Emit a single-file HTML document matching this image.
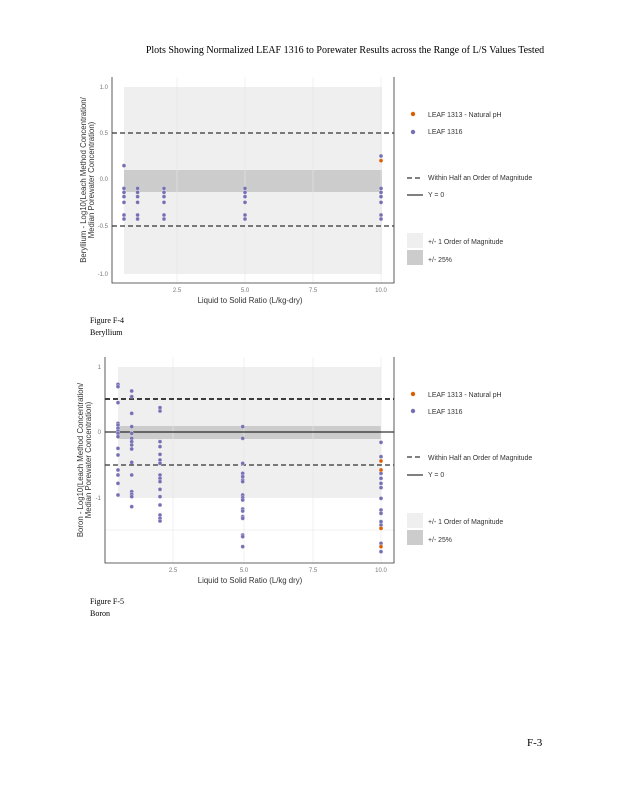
<!DOCTYPE html>
<html><head><meta charset="utf-8"><style>
html,body{margin:0;padding:0;background:#fff;}
svg{display:block;font-family:"Liberation Sans",sans-serif;}
.s{font-family:"Liberation Serif",serif;}
</style></head><body>
<svg id="s" width="618" height="800" viewBox="0 0 618 800" xmlns="http://www.w3.org/2000/svg">
<text class="s" x="345" y="53" font-size="10" text-anchor="middle" fill="#000">Plots Showing Normalized LEAF 1316 to Porewater Results across the Range of L/S Values Tested</text>

<g id="p1">
<rect x="124" y="87" width="258" height="187" fill="#efefef"/>
<rect x="124" y="170" width="258" height="22" fill="#cccccc"/>
<g stroke="#e6e6e6" stroke-width="0.6">
<line x1="177" y1="77" x2="177" y2="283"/><line x1="245" y1="77" x2="245" y2="283"/><line x1="313" y1="77" x2="313" y2="283"/><line x1="381" y1="77" x2="381" y2="283"/>
</g>
<line x1="112" y1="133" x2="394" y2="133" stroke="#000" stroke-width="1" stroke-dasharray="5,3"/>
<line x1="112" y1="226" x2="394" y2="226" stroke="#000" stroke-width="1" stroke-dasharray="5,3"/>
<polyline points="112,77 112,283 394,283 394,77" fill="none" stroke="#333" stroke-width="0.8"/>
<g font-size="6" fill="#777" text-anchor="end">
<text x="108" y="89">1.0</text><text x="108" y="135">0.5</text><text x="108" y="181">0.0</text><text x="108" y="228">-0.5</text><text x="108" y="276">-1.0</text>
</g>
<g font-size="6" fill="#777" text-anchor="middle">
<text x="177" y="292">2.5</text><text x="245" y="292">5.0</text><text x="313" y="292">7.5</text><text x="381" y="292">10.0</text>
</g>
<text x="250" y="303" font-size="7.8" fill="#333" text-anchor="middle">Liquid to Solid Ratio (L/kg-dry)</text>
<text transform="translate(86,180) rotate(-90)" font-size="7.8" fill="#333" text-anchor="middle">Beryllium - Log10(Leach Method Concentration/</text>
<text transform="translate(94,180) rotate(-90)" font-size="7.8" fill="#333" text-anchor="middle">Median Porewater Concentration)</text>
<g id="pts1"></g>
</g>

<g font-size="6.9" fill="#333">
<circle cx="413" cy="114" r="2.2" fill="#d95f02"/><text x="428" y="117">LEAF 1313 - Natural pH</text>
<circle cx="413" cy="132" r="2.2" fill="#7570b3"/><text x="428" y="134">LEAF 1316</text>
<line x1="407" y1="178" x2="423" y2="178" stroke="#000" stroke-dasharray="5,3"/><text x="428" y="180">Within Half an Order of Magnitude</text>
<line x1="407" y1="195" x2="423" y2="195" stroke="#000"/><text x="428" y="197">Y = 0</text>
<rect x="407" y="233" width="16" height="15" fill="#efefef"/><text x="428" y="244">+/- 1 Order of Magnitude</text>
<rect x="407" y="250" width="16" height="15" fill="#cccccc"/><text x="428" y="262">+/- 25%</text>
</g>
<text class="s" x="90" y="323" font-size="8" fill="#000">Figure F-4</text>
<text class="s" x="90" y="335" font-size="8" fill="#000">Beryllium</text>

<g>
<rect x="118" y="367" width="263" height="131" fill="#efefef"/>
<rect x="118" y="426" width="263" height="13" fill="#cccccc"/>
<g stroke="#e6e6e6" stroke-width="0.6">
<line x1="173" y1="357" x2="173" y2="563"/><line x1="244" y1="357" x2="244" y2="563"/><line x1="313" y1="357" x2="313" y2="563"/><line x1="381" y1="357" x2="381" y2="563"/>
<line x1="105" y1="530" x2="394" y2="530"/>
</g>
<line x1="105" y1="399" x2="394" y2="399" stroke="#000" stroke-width="1.5" stroke-dasharray="5,3"/>
<line x1="105" y1="465" x2="394" y2="465" stroke="#000" stroke-width="1" stroke-dasharray="5,3"/>
<line x1="105" y1="432" x2="394" y2="432" stroke="#000" stroke-width="1"/>
<polyline points="105,357 105,563 394,563 394,357" fill="none" stroke="#333" stroke-width="0.8"/>
<g font-size="6" fill="#777" text-anchor="end">
<text x="101" y="369">1</text><text x="101" y="434">0</text><text x="101" y="500">-1</text>
</g>
<g font-size="6" fill="#777" text-anchor="middle">
<text x="173" y="572">2.5</text><text x="244" y="572">5.0</text><text x="313" y="572">7.5</text><text x="381" y="572">10.0</text>
</g>
<text x="250" y="583" font-size="7.8" fill="#333" text-anchor="middle">Liquid to Solid Ratio (L/kg dry)</text>
<text transform="translate(83,460) rotate(-90)" font-size="7.8" fill="#333" text-anchor="middle">Boron - Log10(Leach Method Concentration/</text>
<text transform="translate(91,460) rotate(-90)" font-size="7.8" fill="#333" text-anchor="middle">Median Porewater Concentration)</text>
<g id="pts2"></g>
</g>

<g font-size="6.9" fill="#333">
<circle cx="413" cy="394" r="2.2" fill="#d95f02"/><text x="428" y="397">LEAF 1313 - Natural pH</text>
<circle cx="413" cy="411" r="2.2" fill="#7570b3"/><text x="428" y="414">LEAF 1316</text>
<line x1="407" y1="457" x2="423" y2="457" stroke="#000" stroke-dasharray="5,3"/><text x="428" y="460">Within Half an Order of Magnitude</text>
<line x1="407" y1="475" x2="423" y2="475" stroke="#000"/><text x="428" y="477">Y = 0</text>
<rect x="407" y="513" width="16" height="15" fill="#efefef"/><text x="428" y="524">+/- 1 Order of Magnitude</text>
<rect x="407" y="530" width="16" height="15" fill="#cccccc"/><text x="428" y="542">+/- 25%</text>
</g>
<text class="s" x="90" y="604" font-size="8" fill="#000">Figure F-5</text>
<text class="s" x="90" y="616" font-size="8" fill="#000">Boron</text>

<text class="s" x="527" y="746" font-size="11" fill="#000">F-3</text>
</svg>
<script>
var NS="http://www.w3.org/2000/svg";
function dot(g,x,y,c){var e=document.createElementNS(NS,"circle");e.setAttribute("cx",x);e.setAttribute("cy",y);e.setAttribute("r",2.0);e.setAttribute("fill",c);e.setAttribute("stroke","#fff");e.setAttribute("stroke-width","0.3");g.appendChild(e);}
var P="#7570b3",O="#d95f02";
var g1=document.getElementById("pts1");
var common=[340,352,365,382,420,432];
function z1(zy){return 75+zy/3;}
[272].concat(common).forEach(function(v){dot(g1,124,z1(v),P);});
[137.6,164,245].forEach(function(x){common.forEach(function(v){dot(g1,x,z1(v),P);});});
[243].concat(common).forEach(function(v){dot(g1,381,z1(v),P);});
dot(g1,381,z1(257),O);
var g2=document.getElementById("pts2");
function z2(zy){return 355+zy/3;}
var d={118:[88,95,143,205,210,220,228,235,245,280,300,345,360,385,420],
131.7:[108,125,175,215,235,250,260,270,282,322,360,410,418,425,455],
160:[158,168,260,275,298,315,325,360,370,380,403,425,450,480,490,498],
242.7:[215,250,325,355,365,375,380,420,428,435,462,468,485,490,540,545,575],
381:[262,305,345,355,370,385,398,430,465,475,500,510,565,590]};
for(var k in d){d[k].forEach(function(v){dot(g2,parseFloat(k),z2(v),P);});}
[318,345,520,575].forEach(function(v){dot(g2,381,z2(v),O);});
</script>
</body></html>
